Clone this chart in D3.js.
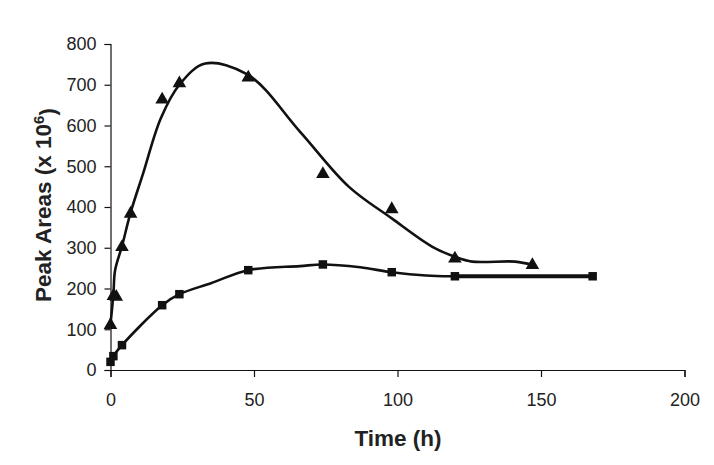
<!DOCTYPE html>
<html>
<head>
<meta charset="utf-8">
<script src="https://cdn.jsdelivr.net/npm/d3@7"></script>
<style>
  html, body { margin: 0; padding: 0; background: #fff; }
  svg { display: block; }
</style>
</head>
<body>
<svg id="chart" width="714" height="465"></svg>
<script>
// ---- data ----
const triangleTimes  = [0, 1, 2, 4, 7, 18, 24, 48, 74, 98, 120, 147];
const triangleValues = [113, 184, 182, 304, 386, 666, 706, 720, 483, 397, 276, 260];

const squareTimes  = [0, 1, 4, 18, 24, 48, 74, 98, 120, 168];
const squareValues = [20, 34, 61, 159, 186, 245, 259, 240, 230, 230];

// smoothed trend curves as drawn in the figure (knots)
const triangleCurveTimes  = [0, 1, 1.6, 4, 7, 11.4, 17.5, 24, 33, 48, 66, 83, 98, 112, 120, 126, 141, 147];
const triangleCurveValues = [113, 185, 245, 304, 386, 483, 617, 700, 752, 724, 585, 450, 372, 303, 278, 266, 266, 258];

const squareCurveTimes  = [0, 1, 4, 18, 24, 35, 48, 66, 74, 87, 98, 110, 120, 168];
const squareCurveValues = [20, 34, 61, 159, 186, 213, 245, 255, 259, 252, 240, 232, 230, 230];

const xTicks = [0, 50, 100, 150, 200];
const yTicks = [0, 100, 200, 300, 400, 500, 600, 700, 800];

const xTitle = "Time (h)";
const yTitle = "Peak Areas (x 10";
const yTitleSup = "6";
const yTitleEnd = ")";

(function () {
  // ---- layout ----
  const svg = d3.select("#chart");
  const mLeft = 110.5, mRight = 684.5, mTop = 44, mBottom = 370;
  const x = d3.scaleLinear().domain([0, 200]).range([mLeft, mRight]);
  const y = d3.scaleLinear().domain([0, 800]).range([mBottom, mTop]);
  const font = "'Liberation Sans', Arial, sans-serif";
  const textColor = "#222";

  // axes
  const xAxis = d3.axisBottom(x).tickValues(xTicks).tickSize(7).tickPadding(16).tickFormat(d3.format("d"));
  const yAxis = d3.axisLeft(y).tickValues(yTicks).tickSize(6).tickPadding(7).tickFormat(d3.format("d"));

  const gx = svg.append("g").attr("transform", `translate(0,${mBottom})`).call(xAxis);
  const gy = svg.append("g").attr("transform", `translate(${mLeft},0)`).call(yAxis);
  [gx, gy].forEach(g => {
    g.select(".domain").attr("stroke", "#111").attr("stroke-width", 1.2);
    g.selectAll(".tick line").attr("stroke", "#111").attr("stroke-width", 1.2);
    g.selectAll(".tick text").attr("fill", textColor).style("font-family", font).style("font-size", "18px");
  });
  gy.selectAll(".tick text").attr("dx", "-1px");

  // curves
  const line = d3.line().x(d => x(d[0])).y(d => y(d[1])).curve(d3.curveCatmullRom.alpha(0.5));
  const triCurve = triangleCurveTimes.map((t, i) => [t, triangleCurveValues[i]]);
  const sqCurve = squareCurveTimes.map((t, i) => [t, squareCurveValues[i]]);

  svg.append("path").datum(triCurve).attr("d", line)
    .attr("fill", "none").attr("stroke", "#111").attr("stroke-width", 2.6);
  svg.append("path").datum(sqCurve).attr("d", line)
    .attr("fill", "none").attr("stroke", "#111").attr("stroke-width", 2.6);

  // overlapping flat tail of the square series (drawn heavier in the figure)
  const n = squareTimes.length;
  svg.append("line")
    .attr("x1", x(squareTimes[n - 2])).attr("y1", y(squareValues[n - 2]))
    .attr("x2", x(squareTimes[n - 1])).attr("y2", y(squareValues[n - 1]))
    .attr("stroke", "#111").attr("stroke-width", 4);

  // markers
  const triSym = d3.symbol().type(d3.symbolTriangle).size(80);
  svg.append("g").selectAll("path")
    .data(triangleTimes.map((t, i) => [t, triangleValues[i]]))
    .join("path")
    .attr("d", triSym)
    .attr("transform", d => `translate(${x(d[0])},${y(d[1]) + 1})`)
    .attr("fill", "#111");

  const sqSym = d3.symbol().type(d3.symbolSquare).size(72);
  svg.append("g").selectAll("path")
    .data(squareTimes.map((t, i) => [t, squareValues[i]]))
    .join("path")
    .attr("d", sqSym)
    .attr("transform", d => `translate(${x(d[0])},${y(d[1])})`)
    .attr("fill", "#111");

  // titles
  svg.append("text")
    .attr("x", 398).attr("y", 446)
    .attr("text-anchor", "middle")
    .style("font-family", font).style("font-size", "22.5px").style("font-weight", "bold")
    .attr("fill", textColor)
    .text(xTitle);

  const yt = svg.append("text")
    .attr("transform", "translate(51,205) rotate(-90)")
    .attr("text-anchor", "middle")
    .style("font-family", font).style("font-size", "22.5px").style("font-weight", "bold")
    .attr("fill", textColor);
  yt.append("tspan").text(yTitle);
  yt.append("tspan").attr("dy", "-0.5em").style("font-size", "15px").text(yTitleSup);
  yt.append("tspan").attr("dy", "0.5em").text(yTitleEnd);
})();
</script>
</body>
</html>
